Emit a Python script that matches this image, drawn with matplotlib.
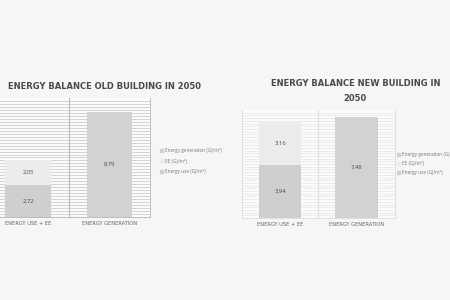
#!/usr/bin/env python3

import numpy as np
import matplotlib.pyplot as plt
from matplotlib.patches import Patch

categories = ["ENERGY USE + EE", "ENERGY GENERATION"]
series = ["Energy generation (GJ/m²)", "EE (GJ/m²)", "Energy use (GJ/m²)"]

old_use = [2.72, 0]
old_ee = [2.05, 0]
old_gen = [0, 8.79]

new_use = [3.94, 0]
new_ee = [3.16, 0]
new_gen = [0, 7.48]

C_USE = '#cfcfcf'
C_EE = '#ececec'
C_GEN = '#d2d2d2'
TXT = '#4a4a4a'
BG = '#f6f6f6'


def fmt(v):
    return f"{v:.2f}".replace('.', ',')


def draw(ax, use, ee, gen, ymax, step, gridc, framec):
    ax.set_facecolor('#fbfbfb')
    for y in np.arange(step, ymax, step):
        ax.axhline(y, color=gridc, lw=0.7, zorder=0)
    x = np.arange(len(categories))
    w = 0.56
    ax.bar(x, use, w, color=C_USE, zorder=2)
    ax.bar(x, ee, w, bottom=use, color=C_EE, zorder=2)
    ax.bar(x, gen, w, color=C_GEN, zorder=2)
    kw = dict(ha='center', va='center', fontsize=4.2, color=TXT, zorder=3)
    for i in x:
        if use[i]:
            ax.text(i, use[i] / 2, fmt(use[i]), **kw)
        if ee[i]:
            ax.text(i, use[i] + ee[i] / 2, fmt(ee[i]), **kw)
        if gen[i]:
            ax.text(i, gen[i] / 2, fmt(gen[i]), **kw)
    ax.axvline(0.5, color=framec, lw=0.9, zorder=1)
    ax.set_xlim(-0.5, 1.5)
    ax.set_ylim(0, ymax)
    ax.set_xticks(x)
    ax.set_xticklabels(categories, fontsize=3.7, color='#666666',
                       family='DejaVu Sans')
    ax.tick_params(length=0, pad=3)
    ax.set_yticks([])
    for s in ax.spines.values():
        s.set_color(framec)
        s.set_linewidth(0.7)
    ax.spines['top'].set_visible(False)


plt.rcParams['font.family'] = ['Open Sans', 'DejaVu Sans']
title_kw = dict(ha='center', va='center', fontsize=6.05, fontweight='bold',
                color=TXT, family='DejaVu Sans')

fig = plt.figure(figsize=(4.5, 3), dpi=100)
fig.patch.set_facecolor(BG)

ax1 = fig.add_axes([-0.0282, 0.2767, 0.3621, 0.3967])
draw(ax1, old_use, old_ee, old_gen, 10, 0.25, '#d3d3d3', '#bdbdbd')
fig.text(0.233, 0.713, "ENERGY BALANCE OLD BUILDING IN 2050", **title_kw)

ax2 = fig.add_axes([0.5378, 0.2733, 0.3389, 0.36])
draw(ax2, new_use, new_ee, new_gen, 8, 0.2, '#ececec', '#e0e0e0')
fig.text(0.79, 0.72, "ENERGY BALANCE NEW BUILDING IN", **title_kw)
fig.text(0.79, 0.673, "2050", **title_kw)

handles = [Patch(color=C_GEN), Patch(color=C_EE), Patch(color=C_USE)]
for xpos, ypos, sp in [(0.347, 0.463, 1.2), (0.873, 0.455, 0.8)]:
    fig.legend(handles, series, loc='center left', bbox_to_anchor=(xpos, ypos),
               frameon=False, fontsize=3.4, labelcolor='#777777',
               handlelength=0.6, handleheight=0.6, handletextpad=0.4,
               labelspacing=sp)

plt.savefig("out.png", dpi=100, facecolor=BG)
